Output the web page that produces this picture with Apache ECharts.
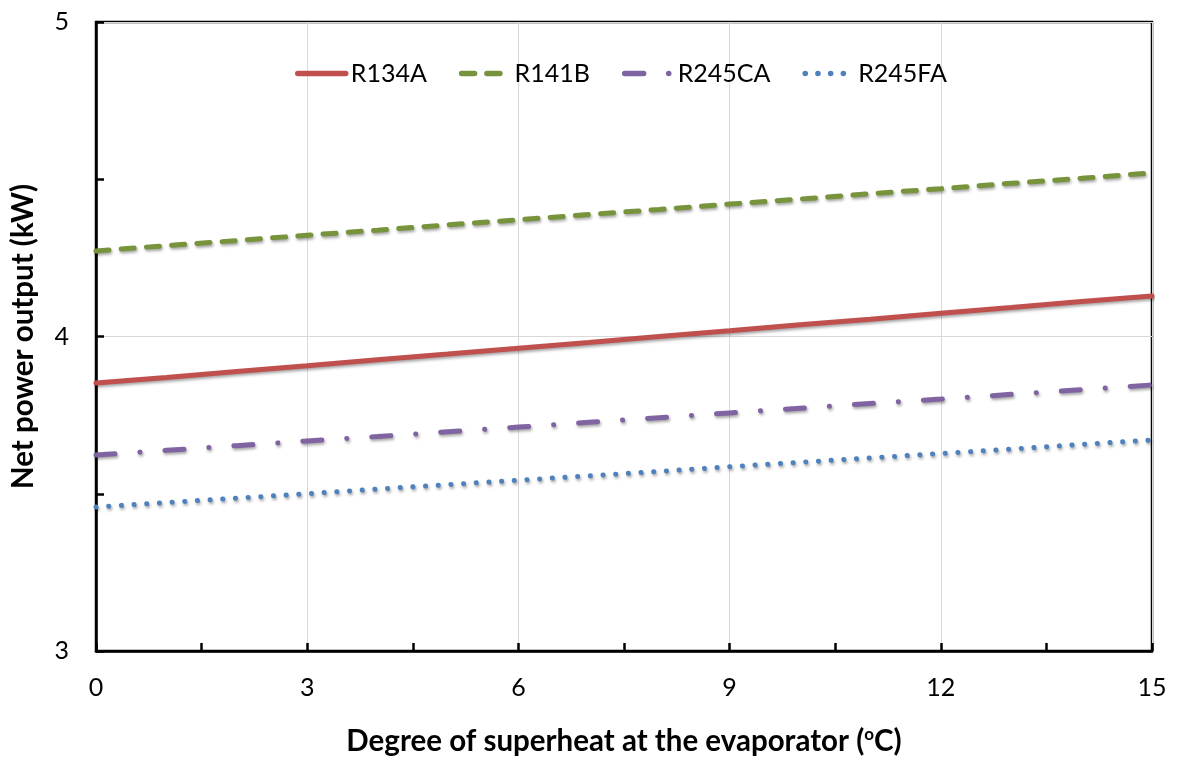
<!DOCTYPE html>
<html>
<head>
<meta charset="utf-8">
<script src="https://cdn.jsdelivr.net/npm/echarts@6/dist/echarts.min.js"></script>
<style>html,body{margin:0;padding:0;background:#fff}#c{width:1177px;height:761px}</style>
</head>
<body>
<div id="c"></div>
<script>
const superheat = [0,1,2,3,4,5,6,7,8,9,10,11,12,13,14,15];
const r134a = [3.852,3.870,3.889,3.907,3.926,3.944,3.963,3.981,4.000,4.018,4.037,4.055,4.074,4.092,4.111,4.129];
const r141b = [4.272,4.289,4.305,4.322,4.338,4.355,4.371,4.388,4.404,4.421,4.437,4.454,4.470,4.487,4.503,4.520];
const r245ca = [3.623,3.638,3.653,3.668,3.682,3.697,3.712,3.727,3.742,3.757,3.772,3.787,3.801,3.816,3.831,3.846];
const r245fa = [3.458,3.472,3.486,3.500,3.515,3.529,3.543,3.557,3.571,3.586,3.600,3.614,3.628,3.642,3.657,3.671];
const seriesNames = ['R134A','R141B','R245CA','R245FA'];

const FONT = 'Lato, "Open Sans", sans-serif';
const pair = arr => superheat.map((x,i)=>[x,arr[i]]);
const shadow = {shadowBlur:3, shadowColor:'rgba(0,0,0,0.35)', shadowOffsetX:1, shadowOffsetY:2};

const chart = echarts.init(document.getElementById('c'), null, {renderer:'canvas'});
chart.setOption({
  animation:false,
  backgroundColor:'#fff',
  grid:{left:94,right:25,top:22,bottom:110,show:true,borderColor:'#000',borderWidth:2.5,backgroundColor:'transparent'},
  legend:{
    data:seriesNames,
    top:56, left:290,
    itemWidth:48, itemHeight:16, itemGap:32,
    itemStyle:{opacity:0},
    lineStyle:{width:5.5,cap:'round'},
    textStyle:{fontFamily:FONT,fontSize:25,color:'#000',padding:[0,0,0,0]}
  },
  xAxis:{
    type:'value', min:0, max:15, interval:3,
    name:'Degree of superheat at the evaporator ({sup|o}C)',
    nameLocation:'middle', nameGap:75,
    nameTextStyle:{fontFamily:FONT,fontSize:29.5,fontWeight:'bold',color:'#000',
      rich:{sup:{fontFamily:FONT,fontSize:17,fontWeight:'bold',color:'#000',verticalAlign:'top',padding:[0,0,12,0]}}},
    axisLine:{show:true,lineStyle:{color:'#000',width:2.5}},
    axisTick:{show:true,inside:true,length:8,lineStyle:{color:'#000',width:2.5}},
    minorTick:{show:true,splitNumber:2,length:8,lineStyle:{color:'#000',width:2.5}},
    axisLabel:{fontFamily:FONT,fontSize:25,color:'#000',margin:24},
    splitLine:{show:true,lineStyle:{color:'#d9d9d9',width:1}}
  },
  yAxis:{
    type:'value', min:3, max:5, interval:1,
    name:'Net power output (kW)',
    nameLocation:'middle', nameGap:58,
    nameTextStyle:{fontFamily:FONT,fontSize:29.5,fontWeight:'bold',color:'#000'},
    axisLine:{show:true,lineStyle:{color:'#000',width:2.5}},
    axisTick:{show:true,inside:true,length:8,lineStyle:{color:'#000',width:2.5}},
    minorTick:{show:true,splitNumber:2,length:8,lineStyle:{color:'#000',width:2.5}},
    axisLabel:{fontFamily:FONT,fontSize:25,color:'#000',margin:27},
    splitLine:{show:true,lineStyle:{color:'#d9d9d9',width:1}}
  },
  series:[
    {name:'R134A',type:'line',symbol:'none',data:pair(r134a),color:'#C0504D',
     lineStyle:Object.assign({width:5,color:'#C0504D',type:'solid',cap:'round'},shadow)},
    {name:'R141B',type:'line',symbol:'none',data:pair(r141b),color:'#77933C',
     lineStyle:Object.assign({width:5,color:'#77933C',type:[13,12.3],cap:'round'},shadow)},
    {name:'R245CA',type:'line',symbol:'none',data:pair(r245ca),color:'#8064A2',
     lineStyle:Object.assign({width:5,color:'#8064A2',type:[19,25,0.1,25],cap:'round'},shadow)},
    {name:'R245FA',type:'line',symbol:'none',data:pair(r245fa),color:'#4F81BD',
     lineStyle:Object.assign({width:5,color:'#4F81BD',type:[0.1,12.6],cap:'round'},shadow)}
  ]
});
</script>
</body>
</html>
